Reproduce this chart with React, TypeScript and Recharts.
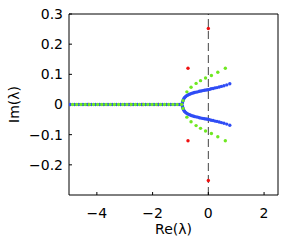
import { ScatterChart, Scatter, XAxis, YAxis, ReferenceLine } from "recharts"

// eigenvalues on the real axis (Im = 0)
const realBlue = [-4.95, -4.8, -4.65, -4.5, -4.35, -4.2, -4.05, -3.9, -3.75, -3.6, -3.45, -3.3, -3.15, -3.0, -2.85, -2.7, -2.55, -2.4, -2.25, -2.1, -1.95, -1.8, -1.65, -1.5, -1.35, -1.2, -1.05, -0.98]
const realGreen = [-4.87, -4.72, -4.57, -4.42, -4.27, -4.12, -3.97, -3.82, -3.67, -3.52, -3.37, -3.22, -3.07, -2.92, -2.77, -2.62, -2.47, -2.32, -2.17, -2.02, -1.87, -1.72, -1.57, -1.42, -1.27, -1.12, -0.96]
const realRed = [-4.3, -2.8, -2.35, -1.8]

// complex branches (upper half, lower half mirrors it)
const blueBranchRe = [-0.93, -0.92, -0.9, -0.88, -0.85, -0.82, -0.78, -0.74, -0.7, -0.65, -0.6, -0.55, -0.5, -0.44, -0.38, -0.32, -0.26, -0.2, -0.14, -0.08, -0.02, 0.04, 0.1, 0.17, 0.24, 0.31, 0.39, 0.47, 0.56, 0.66, 0.77]
const blueBranchIm = [0.005, 0.01, 0.015, 0.019, 0.023, 0.026, 0.029, 0.031, 0.033, 0.035, 0.037, 0.038, 0.04, 0.041, 0.042, 0.044, 0.045, 0.046, 0.047, 0.048, 0.049, 0.05, 0.052, 0.053, 0.055, 0.056, 0.058, 0.06, 0.062, 0.065, 0.069]
const greenBranchRe = [-0.91, -0.77, -0.62, -0.44, -0.28, -0.1, 0.11, 0.34, 0.61]
const greenBranchIm = [0.013, 0.042, 0.057, 0.07, 0.079, 0.088, 0.096, 0.107, 0.12]
const redRe = [0, -0.73, -0.73, 0]
const redIm = [0.252, 0.12, -0.12, -0.252]

const xTicks = [-4, -2, 0, 2]
const yTicks = [-0.2, -0.1, 0, 0.1, 0.2, 0.3]

const onAxis = (xs: number[]) => xs.map((re) => ({ re, im: 0 }))
const branch = (xs: number[], ys: number[]) => [
  ...xs.map((re, i) => ({ re, im: ys[i] })),
  ...xs.map((re, i) => ({ re, im: -ys[i] })),
]

const blueData = [...onAxis(realBlue), ...branch(blueBranchRe, blueBranchIm)]
const greenData = [...onAxis(realGreen), ...branch(greenBranchRe, greenBranchIm)]
const redData = [...onAxis(realRed), ...redRe.map((re, i) => ({ re, im: redIm[i] }))]

const font = { fontFamily: "'DejaVu Sans', sans-serif", fontSize: 14, fill: "#000" }
const fmt = (v: number) => String(v).replace("-", "\u2212")

const dot = (color: string) => (props: any) => (
  <circle cx={props.cx} cy={props.cy} r={1.7} fill={color} />
)

export default function App() {
  return (
    <div style={{ position: "absolute", left: 0, top: 0, background: "#fff" }}>
      <ScatterChart width={285} height={242} margin={{ top: 0, right: 0, bottom: 0, left: 0 }}>
        <XAxis
          xAxisId="b"
          type="number"
          dataKey="re"
          domain={[-5, 2.5]}
          ticks={xTicks}
          allowDataOverflow
          height={47}
          tickSize={-3}
          tickMargin={16}
          stroke="#000"
          tick={font}
          tickFormatter={fmt}
          label={{
            content: (p: any) => (
              <text x={p.viewBox.x + p.viewBox.width / 2} y={p.viewBox.y + 39} textAnchor="middle" {...font}>
                Re(λ)
              </text>
            ),
          }}
        />
        <XAxis
          xAxisId="t"
          orientation="top"
          type="number"
          dataKey="re"
          domain={[-5, 2.5]}
          ticks={xTicks}
          allowDataOverflow
          height={14}
          tickSize={-3}
          tick={false}
          stroke="#000"
        />
        <YAxis
          yAxisId="l"
          type="number"
          dataKey="im"
          domain={[-0.3, 0.3]}
          ticks={yTicks}
          allowDataOverflow
          width={69}
          tickSize={-3}
          tickMargin={9}
          stroke="#000"
          tick={font}
          tickFormatter={fmt}
          label={{
            content: (p: any) => {
              const cx = p.viewBox.x + 14
              const cy = p.viewBox.y + p.viewBox.height / 2
              return (
                <text x={cx} y={cy} textAnchor="middle" dominantBaseline="central" transform={`rotate(-90 ${cx} ${cy})`} {...font}>
                  Im(λ)
                </text>
              )
            },
          }}
        />
        <YAxis
          yAxisId="r"
          orientation="right"
          type="number"
          dataKey="im"
          domain={[-0.3, 0.3]}
          ticks={yTicks}
          allowDataOverflow
          width={7}
          tickSize={-3}
          tick={false}
          stroke="#000"
        />
        <ReferenceLine xAxisId="b" yAxisId="l" x={0} stroke="#444" strokeDasharray="8 4" />
        <Scatter xAxisId="b" yAxisId="l" data={redData} shape={dot("#f01010")} isAnimationActive={false} />
        <Scatter xAxisId="b" yAxisId="l" data={blueData} shape={dot("#2f4cf5")} isAnimationActive={false} />
        <Scatter xAxisId="b" yAxisId="l" data={greenData} shape={dot("#6fe822")} isAnimationActive={false} />
      </ScatterChart>
    </div>
  )
}
